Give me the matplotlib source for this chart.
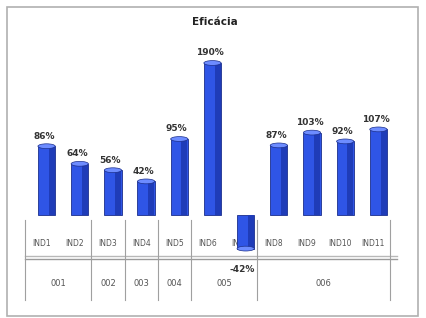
import matplotlib.pyplot as plt
from matplotlib.patches import Rectangle, Ellipse
import numpy as np

# data
indicators = ["IND1", "IND2", "IND3", "IND4", "IND5", "IND6", "IND7",
              "IND8", "IND9", "IND10", "IND11"]
values = [86, 64, 56, 42, 95, 190, -42, 87, 103, 92, 107]
groups = ["001", "002", "003", "004", "005", "006"]
group_sizes = [2, 1, 1, 1, 2, 4]

fig = plt.figure(figsize=(4.27, 3.18), dpi=100)
H = 318.0

# outer chart border
fig.patches.append(Rectangle((7 / 427, 1 - 316 / H), 411 / 427, 309 / H,
                             transform=fig.transFigure, fill=False,
                             edgecolor="#b0b0b0", linewidth=1.2))

# axes: x from px 25 to 390, y from px 40 to 305, zero at px 215
ax = fig.add_axes([25 / 427, 1 - 305 / H, 365 / 427, 265 / H])
ax.set_xlim(-0.5, len(values) - 0.5)
scale = 0.8
ax.set_ylim(-(305 - 215) / scale, (215 - 40) / scale)
ax.axis("off")

x = np.arange(len(values)) + 0.15
w = 0.52
cap = 6
for xi, v in zip(x, values):
    ax.bar(xi, v, width=w, color="#2f55e6", edgecolor="#1b2f8c",
           linewidth=0.6, zorder=3)
    # darker right side to look like a cylinder
    ax.bar(xi + w * 0.3, v, width=w * 0.35, color="#1f3cb8",
           linewidth=0, zorder=3)
    ax.add_patch(Ellipse((xi, v), w, cap, facecolor="#6d8cff",
                         edgecolor="#1b2f8c", linewidth=0.5, zorder=4))
    if v >= 0:
        ax.text(xi - 0.08, v + 7, f"{v}%", ha="center", va="bottom",
                fontsize=6.5, fontweight="bold", color="#333333")

xt = ax.get_xaxis_transform()
to_frac = lambda ypx: (305 - ypx) / 265.0

# negative value label below the axis
for xi, v in zip(x, values):
    if v < 0:
        ax.text(xi - 0.1, to_frac(270), f"{v}%", transform=xt, ha="center",
                va="center", fontsize=6.5, fontweight="bold", color="#333333")

# indicator labels
for i, lab in enumerate(indicators):
    ax.text(i, to_frac(243), lab, transform=xt, ha="center", va="center",
            fontsize=5.5, color="#555555", zorder=1)

# floor lines
ax.plot([-0.5, 10.7], [to_frac(256), to_frac(256)], transform=xt,
        color="#b8b8b8", lw=1.0, clip_on=False)
ax.plot([-0.5, 10.7], [to_frac(259), to_frac(259)], transform=xt,
        color="#9a9a9a", lw=1.0, clip_on=False)

# group separators and labels
edges = np.concatenate([[0], np.cumsum(group_sizes)]) - 0.5
for e in edges:
    ax.plot([e, e], [to_frac(300), to_frac(220)], transform=xt,
            color="#a0a0a0", lw=0.8, clip_on=False)
for g, a, b in zip(groups, edges[:-1], edges[1:]):
    ax.text((a + b) / 2, to_frac(283), g, transform=xt, ha="center",
            va="center", fontsize=6, color="#555555")

fig.text(215 / 427, 1 - 22 / H, "Eficácia", ha="center", va="center",
         fontsize=7.5, fontweight="bold", color="#222222")

fig.savefig("out.png", dpi=100)
